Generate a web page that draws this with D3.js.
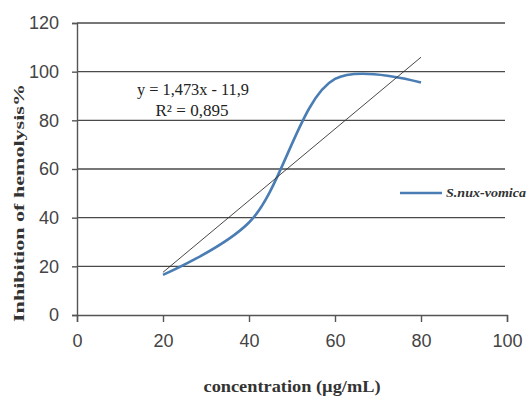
<!DOCTYPE html>
<html>
<head>
<meta charset="utf-8">
<script src="https://cdn.jsdelivr.net/npm/d3@7"></script>
<style>
  body { margin: 0; background: #fff; }
  svg { display: block; }
  .tick text { font-family: "Liberation Sans", Arial, sans-serif; fill: #444; }
</style>
</head>
<body>
<svg id="chart" width="531" height="398"></svg>
<script>
"use strict"

// values
const conc       = [20, 40, 60, 80]
const inhibition = [16.5, 38, 97, 95.5]
const xTicks     = [0, 20, 40, 60, 80, 100]
const yTicks     = [0, 20, 40, 60, 80, 100, 120]
const trend      = { slope: 1.473, intercept: -11.9, r2: "0,895" }
const seriesName = "S.nux-vomica"

const svg = d3.select("#chart")

const x = d3.scaleLinear().domain([0, 100]).range([77, 507])
const y = d3.scaleLinear().domain([0, 120]).range([315, 23])

// horizontal grid lines
svg.append("g")
   .selectAll("line")
   .data(yTicks.filter(t => t > 0))
   .enter().append("line")
   .attr("x1", x(0)).attr("x2", 505)
   .attr("y1", d => y(d)).attr("y2", d => y(d))
   .attr("stroke", "#4a4a4a").attr("stroke-width", 1.4)

// axes
const yAxis = svg.append("g")
   .attr("transform", `translate(${x(0)},0)`)
   .call(d3.axisLeft(y).tickValues(yTicks).tickSize(5).tickPadding(13))
yAxis.select(".domain").attr("stroke", "#555").attr("stroke-width", 1.4)
yAxis.selectAll(".tick line").attr("stroke", "#555").attr("stroke-width", 1.4)
yAxis.selectAll(".tick text").attr("font-size", 18)

const xAxis = svg.append("g")
   .attr("transform", `translate(0,${y(0)})`)
   .call(d3.axisBottom(x).tickValues(xTicks).tickSize(7).tickPadding(12))
xAxis.select(".domain").attr("stroke", "#555").attr("stroke-width", 1.4)
xAxis.selectAll(".tick line").attr("stroke", "#555").attr("stroke-width", 1.4)
xAxis.selectAll(".tick text").attr("font-size", 18)

// data series, smoothed like the spreadsheet line
const line = d3.line()
   .x((d, i) => x(conc[i]))
   .y(d => y(d))
   .curve(d3.curveCatmullRom.alpha(0.5))

svg.append("path")
   .datum(inhibition)
   .attr("d", line)
   .attr("fill", "none")
   .attr("stroke", "#4a7db4")
   .attr("stroke-width", 2.6)

// linear trend line
const xs = d3.extent(conc)
svg.append("line")
   .attr("x1", x(xs[0])).attr("y1", y(trend.slope * xs[0] + trend.intercept))
   .attr("x2", x(xs[1])).attr("y2", y(trend.slope * xs[1] + trend.intercept))
   .attr("stroke", "#333").attr("stroke-width", 0.9)

// equation label
const eq = svg.append("g")
   .attr("font-family", "'Liberation Serif', 'Times New Roman', serif")
   .attr("font-size", 16)
   .attr("fill", "#222")
   .attr("text-anchor", "middle")
eq.append("text").attr("x", 193).attr("y", 95)
  .attr("textLength", 112).attr("lengthAdjust", "spacingAndGlyphs")
  .text(`y = ${String(trend.slope).replace(".", ",")}x - ${String(-trend.intercept).replace(".", ",")}`)
eq.append("text").attr("x", 192).attr("y", 116)
  .attr("textLength", 73).attr("lengthAdjust", "spacingAndGlyphs")
  .text(`R² = ${trend.r2}`)

// legend
svg.append("line")
   .attr("x1", 400).attr("x2", 442).attr("y1", 193).attr("y2", 193)
   .attr("stroke", "#4a7db4").attr("stroke-width", 2.6)
svg.append("text")
   .attr("x", 446).attr("y", 197)
   .attr("font-family", "'Liberation Serif', 'Times New Roman', serif")
   .attr("font-size", 13).attr("font-weight", "bold").attr("font-style", "italic")
   .attr("fill", "#333")
   .attr("textLength", 80).attr("lengthAdjust", "spacingAndGlyphs")
   .text(seriesName)

// axis titles
svg.append("text")
   .attr("x", 292).attr("y", 392)
   .attr("text-anchor", "middle")
   .attr("font-family", "'Liberation Serif', 'Times New Roman', serif")
   .attr("font-size", 16).attr("font-weight", "bold").attr("fill", "#333")
   .attr("textLength", 177).attr("lengthAdjust", "spacingAndGlyphs")
   .text("concentration (µg/mL)")

svg.append("text")
   .attr("transform", "translate(24,203) rotate(-90)")
   .attr("text-anchor", "middle")
   .attr("font-family", "'Liberation Serif', 'Times New Roman', serif")
   .attr("font-size", 15).attr("font-weight", "bold").attr("fill", "#333")
   .attr("textLength", 238).attr("lengthAdjust", "spacingAndGlyphs")
   .text("Inhibition of hemolysis%")
</script>
</body>
</html>
